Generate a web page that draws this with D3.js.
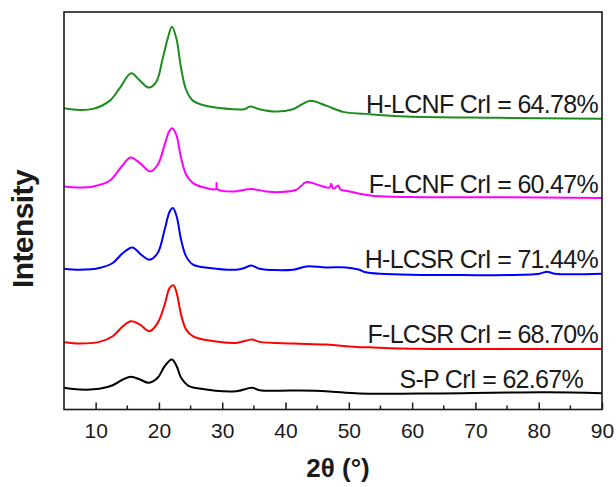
<!DOCTYPE html>
<html>
<head>
<meta charset="utf-8">
<script src="https://cdn.jsdelivr.net/npm/d3@7"></script>
<style>
  body{margin:0;background:#fff}
  svg{display:block}
  text{font-family:"Liberation Sans",Arial,sans-serif;fill:#1a1a1a}
</style>
</head>
<body>
<script>
// 2theta (deg) and intensity (a.u., curves already stacked)
let spTheta = [5,7.5,10.6,12.7,14.3,15.6,17,18.4,19.8,20.9,22.05,22.8,23.5,24.6,26.4,32.2,34.7,35.9,41.2,46.4,51.7,61.2,81.2,90]
let spI     = [21.7,20,20.7,24.3,30,32.7,30,26.7,31.7,43.3,50,43.3,31.7,24,21,18.3,21.7,19.3,19,18.3,16,16,17.3,16.3]

let flcsrTheta = [5,7.5,10.6,12.7,14.3,15.6,17,18.5,19.8,20.9,21.7,22.3,22.8,23.5,24.3,25.4,28,32.2,34.7,35.9,41.2,46.4,51.7,53.3,58,90]
let flcsrI     = [67.3,66,67.7,73.3,83.3,88.3,85,78.3,86.7,105,121.7,124.3,116.7,95,80,73.3,69,66.7,70,67.7,66,65,62.3,62.3,61,60.7]

let hlcsrTheta = [5,7.5,10.6,12.7,14.3,15.8,17.2,18.5,19.8,20.9,21.7,22.2,22.8,23.5,24.3,25.4,28,32.2,33.5,34.6,35.9,41.2,43.3,46.4,49.6,51.7,52.5,54.9,80.1,81.3,82.5,90]
let hlcsrI     = [141,140,141.7,146.7,156.7,162.3,155,150,156.7,180,198.3,201.7,193.3,170,153.3,145,141.7,140,141.7,144.3,141,140,143.3,142.3,142.3,140,137.7,136,136,138,136,136]

let flcnfTheta = [5,7.5,9.6,12.2,14.1,15.5,17,18.6,19.8,20.9,21.6,22.1,22.75,23.5,24.3,25.4,27.5,29,29.1,29.2,31.7,34.6,37,39.1,41.7,43.3,45.4,47,47.2,47.6,48.3,48.7,49.6,51.7,53.7,59.6,73.8,90]
let flcnfI     = [223.3,222.3,223.3,229,243.3,252.3,246.7,238.3,245,265,278.3,281.7,275,251.7,235,226.7,221.7,220.7,226.7,220.7,218.3,220.7,218.3,217.7,220,227.7,224.3,222.3,226,221,224.3,220,219,216,214,212.7,212.5,211.7]

let hlcnfTheta = [5,7.5,9.6,12.2,13.8,15.6,16.9,18.4,19.6,20.6,21.4,22.05,22.75,23.5,24.3,25.4,28,31.7,33.5,34.4,35.9,38.5,41.2,43.8,46.4,49.1,52.7,59,73.8,90]
let hlcnfI     = [301.7,300,301,309,321.7,336.7,330,322.3,328.3,351.7,371.7,383.3,371.7,341.7,320,309,303.3,300.7,300.7,303.3,300.7,298.3,300.7,309,304.3,298,296,293.3,292,291]

let names  = ["S-P","F-LCSR","H-LCSR","F-LCNF","H-LCNF"]
let crI    = ["62.67","68.70","71.44","60.47","64.78"]
let colors = ["#000000","#ff0000","#0000ff","#ff00ff","#1e8c1e"]
let thetas = [spTheta,flcsrTheta,hlcsrTheta,flcnfTheta,hlcnfTheta]
let values = [spI,flcsrI,hlcsrI,flcnfI,hlcnfI]
let xTicks = [10,20,30,40,50,60,70,80,90]

let W = 616, H = 487
let m = {left:64,top:12,right:14,bottom:77.5}
let pw = W-m.left-m.right, ph = H-m.top-m.bottom

let svg = d3.select("body").append("svg").attr("width",W).attr("height",H)
let g = svg.append("g").attr("transform",`translate(${m.left},${m.top})`)

let x = d3.scaleLinear().domain([5,90]).range([0,pw])
let y = d3.scaleLinear().domain([0,398]).range([ph,0])

let line = d3.line().x(d=>x(d[0])).y(d=>y(d[1])).curve(d3.curveCatmullRom.alpha(0.5))

names.forEach((n,i)=>{
  let pts = thetas[i].map((t,j)=>[t,values[i][j]])
  g.append("path").datum(pts)
    .attr("d",line)
    .attr("fill","none")
    .attr("stroke",colors[i])
    .attr("stroke-width",2)
    .attr("stroke-linejoin","round")
  let last = values[i][values[i].length-1]
  g.append("text")
    .attr("x",n==="S-P"? pw-19 : pw-4)
    .attr("y",y(last)-5.5)
    .attr("text-anchor","end")
    .attr("font-size",25)
    .attr("letter-spacing",-0.7)
    .text(`${n} CrI = ${crI[i]}%`)
})

// bottom axis, ticks pointing inward
let xAxis = d3.axisBottom(x).tickValues(xTicks).tickSize(-7).tickPadding(14).tickFormat(d3.format("d"))
let ax = g.append("g").attr("transform",`translate(0,${ph})`).call(xAxis)
ax.select(".domain").remove()
ax.selectAll("line").attr("stroke","#1a1a1a").attr("stroke-width",1.5)
ax.selectAll("text").attr("font-size",21).attr("fill","#1a1a1a").attr("font-family","Liberation Sans, Arial, sans-serif")
g.append("g").attr("transform",`translate(0,${ph})`)
  .selectAll("line").data(d3.range(15,90,10)).join("line")
  .attr("x1",d=>x(d)).attr("x2",d=>x(d)).attr("y1",0).attr("y2",-4)
  .attr("stroke","#1a1a1a").attr("stroke-width",1.5)

g.append("rect").attr("width",pw).attr("height",ph)
  .attr("fill","none").attr("stroke","#1a1a1a").attr("stroke-width",1.6)

svg.append("text")
  .attr("x",m.left+pw/2+5).attr("y",477)
  .attr("text-anchor","middle").attr("font-size",26).attr("font-weight","bold")
  .text("2θ (°)")

svg.append("text")
  .attr("transform","translate(33,229) rotate(-90)")
  .attr("text-anchor","middle").attr("font-size",30).attr("font-weight","bold")
  .attr("letter-spacing",-0.6)
  .text("Intensity")
</script>
</body>
</html>
